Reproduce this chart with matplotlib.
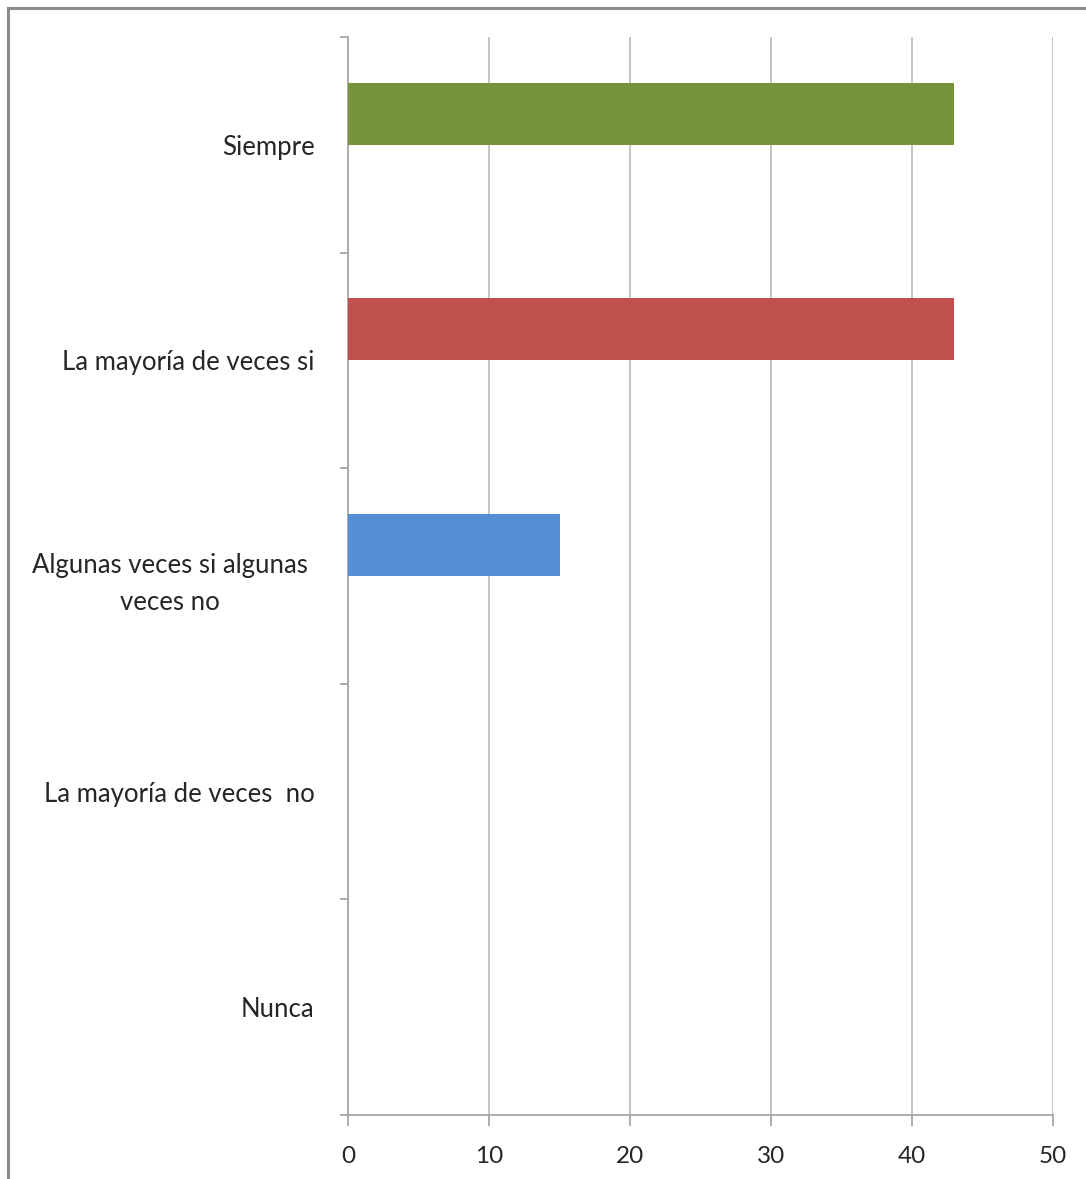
import matplotlib

matplotlib.use("Agg")
import matplotlib.pyplot as plt
from matplotlib.lines import Line2D

# Categories listed bottom to top (barh draws index 0 at the bottom)
categories = [
    "Nunca",
    "La mayoría de veces  no",
    "Algunas veces si algunas \nveces no ",
    "La mayoría de veces si",
    "Siempre",
]
values = [0, 0, 15, 43, 43]
colors = ["#4F81BD", "#4F81BD", "#558ED5", "#C0504D", "#77933C"]
x_ticks = [0, 10, 20, 30, 40, 50]

plt.rcParams["font.family"] = ["Lato", "DejaVu Sans"]

fig = plt.figure(figsize=(10.86, 11.79), dpi=100)
ax = fig.add_axes([348 / 1086, 64 / 1179, 705 / 1086, 1078 / 1179])

# Excel-style bars sit in the upper part of each category band
bar_h = 0.288
ypos = list(range(len(categories)))
ax.barh([y + bar_h / 2 for y in ypos], values, height=bar_h,
        color=colors, zorder=3)

ax.set_xlim(0, 50)
ax.set_ylim(-0.5, len(categories) - 0.5)
ax.set_xticks(x_ticks)
ax.set_xticklabels([str(t) for t in x_ticks])
ax.grid(axis="x", color="#BFBFBF", linewidth=1.3, zorder=0)

ax.set_yticks(ypos)
ax.set_yticklabels(categories, multialignment="center", linespacing=1.55)
ax.set_yticks([y - 0.5 for y in range(len(categories) + 1)], minor=True)
ax.tick_params(axis="y", which="major", length=0, pad=24,
               labelsize=18.5, labelcolor="#262626")
ax.tick_params(axis="y", which="minor", length=6, color="#A6A6A6", width=1.3)
ax.tick_params(axis="x", length=8, color="#A6A6A6", width=1.3, pad=14,
               labelsize=17.5, labelcolor="#262626")

for side in ("top", "right"):
    ax.spines[side].set_visible(False)
for side in ("left", "bottom"):
    ax.spines[side].set_color("#A6A6A6")
    ax.spines[side].set_linewidth(1.3)

# Outer frame (only left and top edges visible in the original crop)
fig.add_artist(Line2D([8 / 1086, 8 / 1086], [0, 1 - 8 / 1179],
                      transform=fig.transFigure, color="#8C8C8C", lw=2.2))
fig.add_artist(Line2D([8 / 1086, 1], [1 - 8 / 1179, 1 - 8 / 1179],
                      transform=fig.transFigure, color="#8C8C8C", lw=2.2))

fig.savefig("out.png", dpi=100)
